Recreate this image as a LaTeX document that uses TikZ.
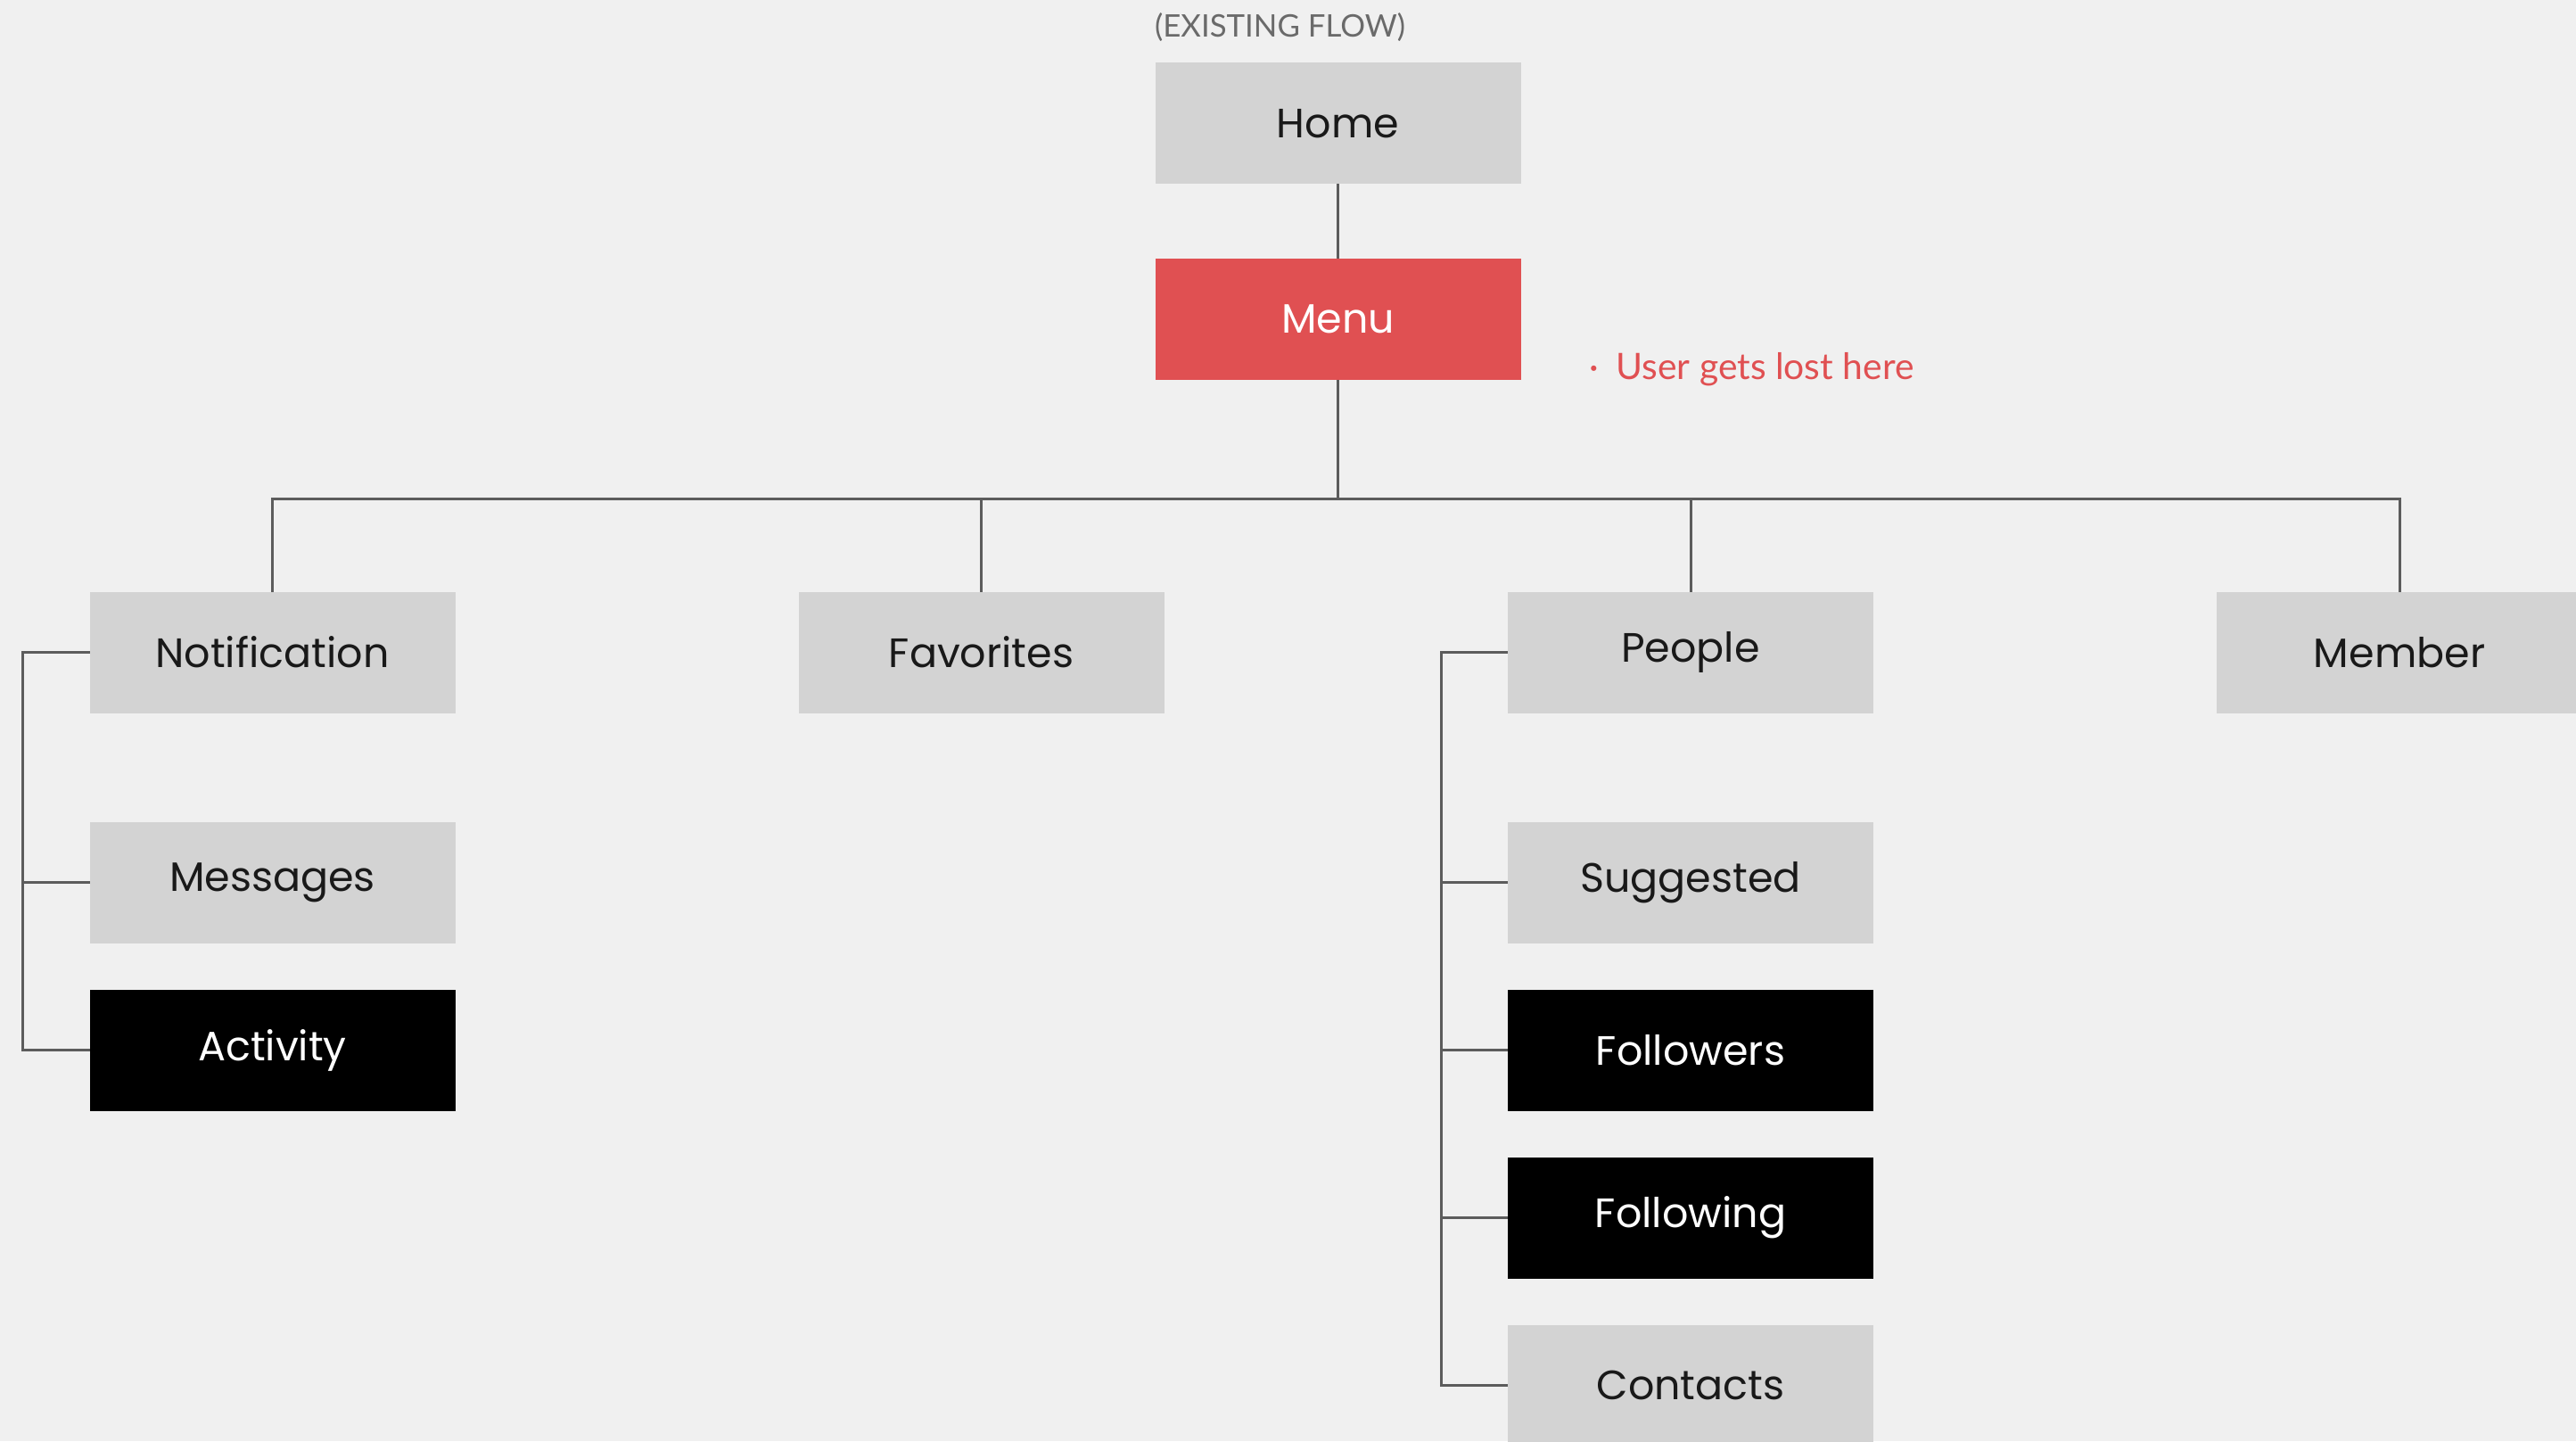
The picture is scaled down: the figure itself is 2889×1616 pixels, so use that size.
\documentclass[tikz,border=0pt]{standalone}
\usepackage{fontspec}
\setmainfont{Lato}
\newfontfamily\boxfont{Poppins}
\usepackage{tikz}
\usetikzlibrary{positioning,calc}
\definecolor{bggray}{HTML}{F0F0F0}
\definecolor{boxgray}{HTML}{D3D3D3}
\definecolor{menured}{HTML}{E05052}
\definecolor{linegray}{HTML}{5C5C5C}
\definecolor{notegray}{HTML}{6A6A6A}

\begin{document}
\begin{tikzpicture}[x=0.25pt,y=-0.25pt,node distance=13pt,
  every node/.append style={inner sep=0pt,outer sep=0pt}]
  \tikzstyle{page} = [rectangle,fill=boxgray,text=black!90,minimum width=102.5pt,minimum height=34pt,font=\boxfont\fontsize{11.5}{13}\selectfont]
  \tikzstyle{newpage} = [page,fill=black,text=white]
  \tikzstyle{lostpage} = [page,fill=menured,text=white]
  \tikzstyle{link} = [draw=linegray,line width=0.75pt]
  \useasboundingbox (0,0) rectangle (2889,1616);
  \fill[bggray] (0,0) rectangle (2889,1616);
  \clip (0,0) rectangle (2889,1616);
  \node (home) [page] at (1500.5,138.5) {Home};
  \node (menu) [lostpage] at (1500.5,358) {Menu};
  \node (title) [anchor=base west,text=notegray,font=\fontsize{8.7}{10}\selectfont] at (1295,42) {(EXISTING FLOW)};
  \node (note) [anchor=west,text=menured,font=\fontsize{10.2}{12}\selectfont] at (1782,414) {·\hspace{5pt}User gets lost here};
  \node (notification) [page] at (305.5,731.5) {Notification};
  \node (favorites) [page] at (1100.5,731.5) {Favorites};
  \node (people) [page] at (1896,731.5) {People};
  \node (member) [page] at (2691,731.5) {Member};
  \node (messages) [page,below=30.5pt of notification] {Messages};
  \node (activity) [newpage,below=of messages] {Activity};
  \node (suggested) [page,below=30.5pt of people] {Suggested};
  \node (followers) [newpage,below=of suggested] {Followers};
  \node (following) [newpage,below=of followers] {Following};
  \node (contacts) [page,below=of following] {Contacts};
  \coordinate (bus) at (1500.5,559);
  \coordinate [left=18.75pt of notification.west] (notifrail);
  \coordinate [left=18.75pt of people.west] (peoplerail);
  \draw[link] (home) -- (menu);
  \draw[link] (menu) -- (bus);
  \draw[link] (notification.north) -- (notification.north |- bus) -| (member.north);
  \draw[link] (favorites.north) -- (favorites.north |- bus);
  \draw[link] (people.north) -- (people.north |- bus);
  \draw[link] (notification.west) -- (notifrail) |- (activity.west);
  \draw[link] (messages.west) -- (messages.west -| notifrail);
  \draw[link] (people.west) -- (peoplerail) |- (contacts.west);
  \draw[link] (suggested.west) -- (suggested.west -| peoplerail);
  \draw[link] (followers.west) -- (followers.west -| peoplerail);
  \draw[link] (following.west) -- (following.west -| peoplerail);
\end{tikzpicture}
\end{document}
